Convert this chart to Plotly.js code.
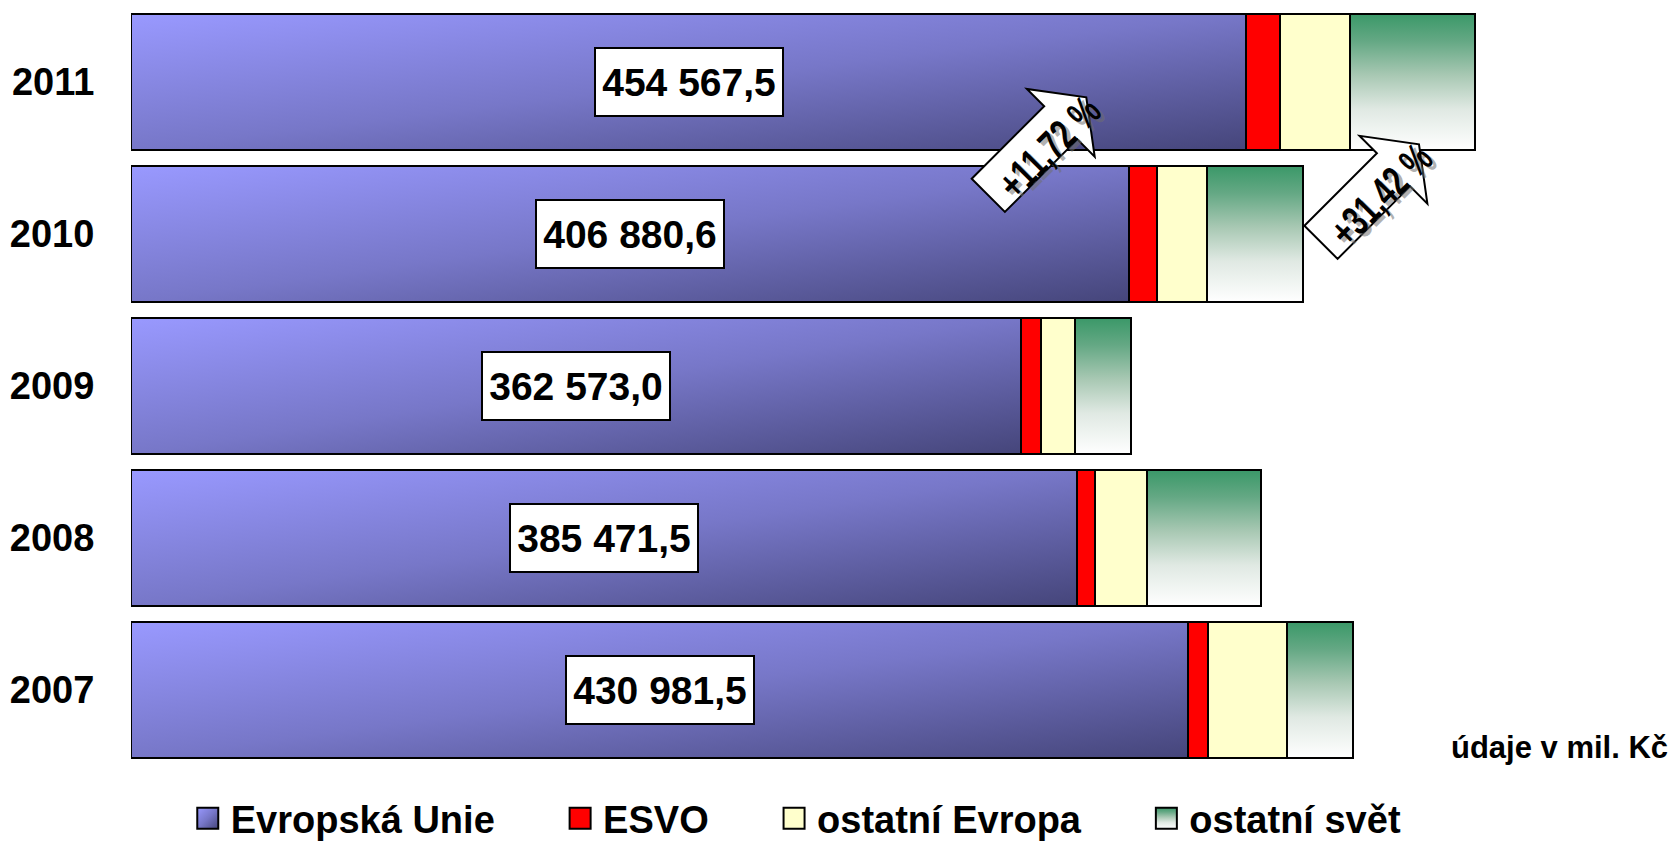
<!DOCTYPE html>
<html>
<head>
<meta charset="utf-8">
<script src="https://cdn.plot.ly/plotly-3.0.1.min.js"></script>
<style>
html,body{margin:0;padding:0;background:#fff;}
#chart{width:1675px;height:842px;}
</style>
</head>
<body>
<svg width="0" height="0" style="position:absolute">
  <defs>
    <linearGradient id="gradEU" x1="0" y1="0" x2="1" y2="1">
      <stop offset="0" stop-color="#9999ff"/>
      <stop offset="0.5" stop-color="#7777c8"/>
      <stop offset="1" stop-color="#45457a"/>
    </linearGradient>
    <linearGradient id="gradSvet" x1="0" y1="0" x2="0" y2="1">
      <stop offset="0" stop-color="#3a9868"/>
      <stop offset="0.2" stop-color="#64a884"/>
      <stop offset="0.45" stop-color="#a8c8b3"/>
      <stop offset="0.7" stop-color="#e0e9e3"/>
      <stop offset="1" stop-color="#ffffff"/>
    </linearGradient>
  </defs>
</svg>
<div id="chart"></div>
<script>
// ---- data (mil. Kč) ----
var years = ['2007', '2008', '2009', '2010', '2011'];
var evropskaUnie = [430981.5, 385471.5, 362573.0, 406880.6, 454567.5];
var esvo = [8100, 7500, 8150, 11400, 13600];
var ostatniEvropa = [32000, 21200, 13900, 20400, 28500];
var ostatniSvet = [27000, 46500, 23000, 39000, 51250];
var seriesNames = ['Evropská Unie', 'ESVO', 'ostatní Evropa', 'ostatní svět'];
var growthLabels = ['+11,72 %', '+31,42 %'];
var unitLabel = 'údaje v mil. Kč';

var FONT = 'Liberation Sans, Arial, sans-serif';
var NB = '\u00A0\u00A0\u00A0\u00A0\u00A0\u00A0';
var yPos = years.map(function (_, i) { return i; });

function fmtCz(v) {
  var s = v.toFixed(1).split('.');
  return s[0].replace(/\B(?=(\d{3})+(?!\d))/g, ' ') + ',' + s[1];
}

function mk(c) { return {color: c, line: {color: '#000000', width: 2}}; }
var data = [
  {type: 'bar', orientation: 'h', y: yPos, x: evropskaUnie, name: seriesNames[0] + NB, marker: mk('#8080e0')},
  {type: 'bar', orientation: 'h', y: yPos, x: esvo, name: seriesNames[1] + NB, marker: mk('#ff0000')},
  {type: 'bar', orientation: 'h', y: yPos, x: ostatniEvropa, name: seriesNames[2] + NB, marker: mk('#ffffcc')},
  {type: 'bar', orientation: 'h', y: yPos, x: ostatniSvet, name: seriesNames[3], marker: mk('#80b898')}
];

var annotations = years.map(function (yr, i) {
  return {
    x: evropskaUnie[i] / 2, y: yPos[i], xref: 'x', yref: 'y',
    text: fmtCz(evropskaUnie[i]), showarrow: false,
    width: 178, height: 58,
    bgcolor: '#ffffff', bordercolor: '#000000', borderwidth: 2, borderpad: 4,
    font: {family: FONT, size: 39, color: '#000000', weight: 'bold'}
  };
});

var arrowPos = [{x: 0.6534, y: 0.8463}, {x: 0.8872, y: 0.7845}];
var textPos = [{x: 0.6450, y: 0.8140}, {x: 0.8787, y: 0.7515}];
growthLabels.forEach(function (t, i) {
  annotations.push({
    x: textPos[i].x, y: textPos[i].y, xref: 'paper', yref: 'paper', xanchor: 'center', yanchor: 'middle',
    text: t, showarrow: false, textangle: -45, xshift: 4, yshift: -3,
    font: {family: FONT, size: 42, color: 'rgba(110,110,110,0.55)', weight: 'bold'}
  });
  annotations.push({
    x: textPos[i].x, y: textPos[i].y, xref: 'paper', yref: 'paper', xanchor: 'center', yanchor: 'middle',
    text: t, showarrow: false, textangle: -45,
    font: {family: FONT, size: 42, color: '#000000', weight: 'bold'}
  });
});

annotations.push({
  x: 1.0815, y: 0.0237, xref: 'paper', yref: 'paper', xanchor: 'right', yanchor: 'middle',
  text: unitLabel, showarrow: false,
  font: {family: FONT, size: 31, color: '#000000', weight: 'bold'}
});

var arrowPath = 'M-89.1,-55.9 L-16.6,16.6 L-33.9,33.9 L25.5,25.5 L33.9,-33.9 L16.6,-16.6 L-55.9,-89.1 Z';
var shapes = arrowPos.map(function (p) {
  return {
    type: 'path', xref: 'paper', yref: 'paper',
    xsizemode: 'pixel', ysizemode: 'pixel', xanchor: p.x, yanchor: p.y,
    path: arrowPath, fillcolor: '#ffffff', line: {color: '#000000', width: 2}, layer: 'above'
  };
});

var layout = {
  width: 1675, height: 842,
  margin: {l: 131, r: 121, t: 6, b: 76, pad: 0, autoexpand: false},
  paper_bgcolor: '#ffffff', plot_bgcolor: '#ffffff',
  barmode: 'stack', bargap: 0.1,
  font: {family: FONT, size: 37, color: '#000000', weight: 'bold'},
  xaxis: {range: [0, 580000], visible: false, showgrid: false, zeroline: false, fixedrange: true},
  yaxis: {range: [-0.5, 4.5], tickmode: 'array', tickvals: yPos, ticktext: years,
          showgrid: false, zeroline: false, showline: false,
          ticks: 'outside', ticklen: 28, tickcolor: 'rgba(0,0,0,0)',
          tickfont: {family: FONT, size: 38, color: '#000000', weight: 'bold'}, fixedrange: true},
  showlegend: true,
  legend: {orientation: 'h', x: 0.042, xanchor: 'left', y: -0.069, yanchor: 'middle',
           font: {family: FONT, size: 38, color: '#000000', weight: 'bold'},
           bgcolor: 'rgba(0,0,0,0)', traceorder: 'normal'},
  annotations: annotations,
  shapes: shapes
};

Plotly.newPlot('chart', data, layout, {staticPlot: true, responsive: false}).then(function (gd) {
  var tr = gd.querySelectorAll('.barlayer .trace.bars');
  if (tr[0]) tr[0].querySelectorAll('path').forEach(function (p) { p.style.fill = 'url(#gradEU)'; });
  if (tr[3]) tr[3].querySelectorAll('path').forEach(function (p) { p.style.fill = 'url(#gradSvet)'; });
  var leg = gd.querySelectorAll('.legend .traces');
  leg.forEach(function (t, i) {
    var p = t.querySelector('.legendpoints path');
    if (!p) return;
    p.setAttribute('d', 'M7.5,10.5H-13.5V-10.5H7.5Z');
    if (i === 0) p.style.fill = 'url(#gradEU)';
    if (i === 3) p.style.fill = 'url(#gradSvet)';
  });
  // condense the growth labels inside the arrows
  var n0 = years.length;
  for (var k = n0; k < n0 + growthLabels.length * 2; k++) {
    var g = gd.querySelector('.annotation[data-index="' + k + '"] text.annotation-text');
    if (g) { g.setAttribute('textLength', '124'); g.setAttribute('lengthAdjust', 'spacingAndGlyphs'); }
  }
});
</script>
</body>
</html>
